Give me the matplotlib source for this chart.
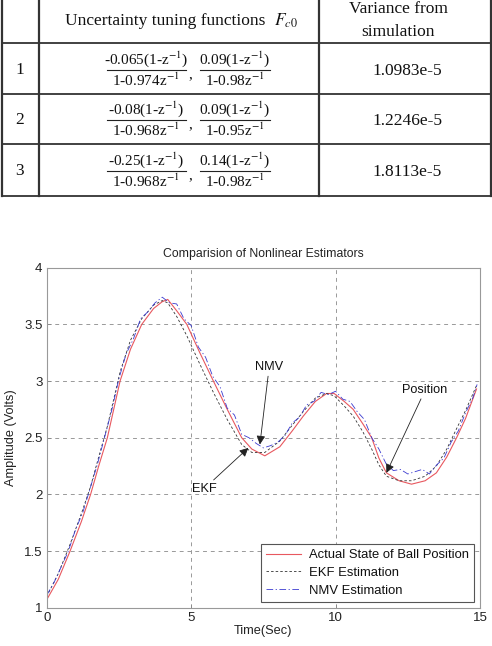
import numpy as np
import matplotlib
matplotlib.use('Agg')
import matplotlib.pyplot as plt
from matplotlib.lines import Line2D

plt.rcParams['mathtext.fontset'] = 'stix'

# ---- datos de la tabla ----
filas = ['1', '2', '3']
num_1 = ['-0.065(1-z$^{-1}$)', '-0.08(1-z$^{-1}$)', '-0.25(1-z$^{-1}$)']
den_1 = ['1-0.974z$^{-1}$', '1-0.968z$^{-1}$', '1-0.968z$^{-1}$']
num_2 = ['0.09(1-z$^{-1}$)', '0.09(1-z$^{-1}$)', '0.14(1-z$^{-1}$)']
den_2 = ['1-0.98z$^{-1}$', '1-0.95z$^{-1}$', '1-0.98z$^{-1}$']
varianza = ['1.0983e-5', '1.2246e-5', '1.8113e-5']

# ---- datos de la grafica ----
t_real = [0, 0.4, 0.81, 1.2, 1.52, 1.8, 2.1, 2.54, 2.9, 3.29, 3.7, 4.0, 4.19, 4.5,
          4.85, 5.3, 5.77, 6.25, 6.75, 7.1, 7.55, 8.07, 8.5, 8.88, 9.3, 9.69, 9.95,
          10.3, 10.61, 10.95, 11.25, 11.5, 11.76, 12.2, 12.63, 13.1, 13.49, 13.85,
          14.19, 14.5, 14.88]
y_real = [1.07, 1.25, 1.5, 1.76, 2.0, 2.25, 2.5, 3.0, 3.28, 3.5, 3.64, 3.70, 3.72, 3.62,
          3.5, 3.25, 3.0, 2.75, 2.5, 2.4, 2.34, 2.42, 2.56, 2.69, 2.82, 2.89, 2.89,
          2.82, 2.75, 2.62, 2.5, 2.32, 2.19, 2.12, 2.09, 2.12, 2.19, 2.33,
          2.5, 2.67, 2.93]
y_ekf = [1.10, 1.30, 1.56, 1.83, 2.07, 2.33, 2.60, 3.08, 3.36, 3.55, 3.67, 3.71, 3.69, 3.57,
         3.40, 3.15, 2.90, 2.66, 2.44, 2.37, 2.37, 2.47, 2.61, 2.73, 2.85, 2.89, 2.87,
         2.78, 2.69, 2.55, 2.40, 2.26, 2.16, 2.12, 2.12, 2.16, 2.25, 2.40,
         2.58, 2.74, 2.96]
t_nmv = [0, 0.25, 0.5, 0.75, 1.0, 1.25, 1.5, 1.75, 2.0, 2.25, 2.5, 2.75, 3.0, 3.25, 3.5,
         3.75, 4.0, 4.25, 4.5, 4.75, 5.0, 5.25, 5.5, 5.75, 6.0, 6.25, 6.5, 6.75, 7.0,
         7.25, 7.5, 7.75, 8.0, 8.25, 8.5, 8.75, 9.0, 9.25, 9.5, 9.75, 10.0, 10.25, 10.5,
         10.75, 11.0, 11.25, 11.5, 11.75, 12.0, 12.25, 12.5, 12.75, 13.0, 13.25, 13.5,
         13.75, 14.0, 14.25, 14.5, 14.75, 14.9]
y_nmv = [1.11, 1.22, 1.36, 1.50, 1.69, 1.84, 2.05, 2.26, 2.50, 2.74, 3.02, 3.24, 3.37, 3.55, 3.61,
         3.69, 3.74, 3.69, 3.68, 3.55, 3.49, 3.30, 3.21, 3.04, 2.95, 2.76, 2.70, 2.53, 2.50,
         2.45, 2.41, 2.43, 2.46, 2.52, 2.63, 2.68, 2.79, 2.82, 2.90, 2.88, 2.91, 2.84, 2.82,
         2.73, 2.66, 2.50, 2.40, 2.27, 2.21, 2.22, 2.18, 2.20, 2.22, 2.18, 2.26,
         2.32, 2.46, 2.56, 2.72, 2.85, 2.97]

W, H = 492, 646
fig = plt.figure(figsize=(W / 100, H / 100), dpi=100)

def fx(x):
    return x / W

def fy(y):
    return 1 - y / H

def linea(x0, y0, x1, y1, lw=1.5, c='#333333'):
    fig.add_artist(Line2D([fx(x0), fx(x1)], [fy(y0), fy(y1)], lw=lw, color=c,
                          transform=fig.transFigure))

serif = 'Liberation Serif'

# ---- tabla dibujada a mano ----
for xv in [2, 39, 319, 491]:
    linea(xv, 0, xv, 196, lw=1.6)
for yh in [43, 94, 144, 196]:
    linea(2, yh, 491, yh, lw=1.3)

fig.text(fx(165), fy(21), 'Uncertainty tuning functions', family=serif, fontsize=12.5,
         ha='center', va='center', color='#111111')
fig.text(fx(274), fy(21), '$F_{c0}$', fontsize=12.5, ha='left', va='center', color='#111111')
fig.text(fx(398), fy(9), 'Variance from', family=serif, fontsize=12.5, ha='center',
         va='center', color='#111111')
fig.text(fx(398), fy(32), 'simulation', family=serif, fontsize=12.5, ha='center',
         va='center', color='#111111')

centros_y = [70, 120, 171]
for i in range(3):
    yc = centros_y[i]
    fig.text(fx(20), fy(yc), filas[i], family=serif, fontsize=12.5, ha='center',
             va='center', color='#111111')
    # primera fraccion
    fig.text(fx(146), fy(yc - 11), num_1[i], family=serif, fontsize=11, ha='center',
             va='center', color='#111111')
    linea(107, yc, 186, yc, lw=0.8, c='#222222')
    fig.text(fx(146), fy(yc + 10), den_1[i], family=serif, fontsize=11, ha='center',
             va='center', color='#111111')
    fig.text(fx(190), fy(yc + 5), ',', family=serif, fontsize=11, ha='center',
             va='center', color='#111111')
    # segunda fraccion
    fig.text(fx(235), fy(yc - 11), num_2[i], family=serif, fontsize=11, ha='center',
             va='center', color='#111111')
    linea(200, yc, 270, yc, lw=0.8, c='#222222')
    fig.text(fx(235), fy(yc + 10), den_2[i], family=serif, fontsize=11, ha='center',
             va='center', color='#111111')
    fig.text(fx(407), fy(yc + 1), varianza[i], family=serif, fontsize=12.5, ha='center',
             va='center', color='#111111')

# ---- grafica ----
sans = 'Liberation Sans'
ax = fig.add_axes([46.7 / W, 1 - 607.7 / H, (480 - 46.7) / W, (607.7 - 267.7) / H])
ax.plot(t_real, y_real, color='#e8585f', lw=0.8, label='Actual State of Ball Position')
ax.plot(t_real, y_ekf, color='#333333', lw=0.6, ls=(0, (3, 2.5)), label='EKF Estimation')
ax.plot(t_nmv, y_nmv, color='#3a3ad0', lw=0.6, ls=(0, (8, 3, 1.5, 3)), label='NMV Estimation')

ax.set_xlim(0, 15)
ax.set_ylim(1, 4)
ax.set_xticks([0, 5, 10, 15])
ax.set_yticks([1, 1.5, 2, 2.5, 3, 3.5, 4])
ax.set_yticklabels(['1', '1.5', '2', '2.5', '3', '3.5', '4'])
ax.grid(True, color='#999999', ls=(0, (4, 4)), lw=0.7)
ax.tick_params(direction='in', length=3, width=0.6, color='#888888', labelsize=9.5,
               labelcolor='#222222', pad=3)
for lab in ax.get_xticklabels() + ax.get_yticklabels():
    lab.set_family(sans)
for s in ax.spines.values():
    s.set_color('#999999')
    s.set_linewidth(0.8)

ax.set_title('Comparision of Nonlinear Estimators', family=sans, fontsize=8.8,
             color='#222222', pad=8)
ax.set_xlabel('Time(Sec)', family=sans, fontsize=9.2, color='#222222', labelpad=1)
ax.set_ylabel('Amplitude (Volts)', family=sans, fontsize=9.2, color='#222222', labelpad=5)

flecha = dict(arrowstyle='-|>', color='#222222', lw=0.6, mutation_scale=13, shrinkA=0, shrinkB=0)
ax.annotate('NMV', xy=(7.38, 2.44), xytext=(7.7, 3.12), family=sans, fontsize=9.2,
            ha='center', va='center', color='#111111', arrowprops=flecha)
ax.annotate('EKF', xy=(6.98, 2.41), xytext=(5.45, 2.05), family=sans, fontsize=9.2,
            ha='center', va='center', color='#111111', arrowprops=flecha)
ax.annotate('Position', xy=(11.76, 2.19), xytext=(13.1, 2.92), family=sans, fontsize=9.2,
            ha='center', va='center', color='#111111', arrowprops=flecha)

leg = ax.legend(loc='lower right', prop={'family': sans, 'size': 9.4}, fancybox=False,
                framealpha=1, edgecolor='#555555', borderaxespad=0.45, handlelength=2.7,
                labelspacing=0.42, borderpad=0.4, handletextpad=0.6)
leg.get_frame().set_linewidth(0.8)
for txt in leg.get_texts():
    txt.set_color('#111111')

fig.savefig('out.png', dpi=100)
